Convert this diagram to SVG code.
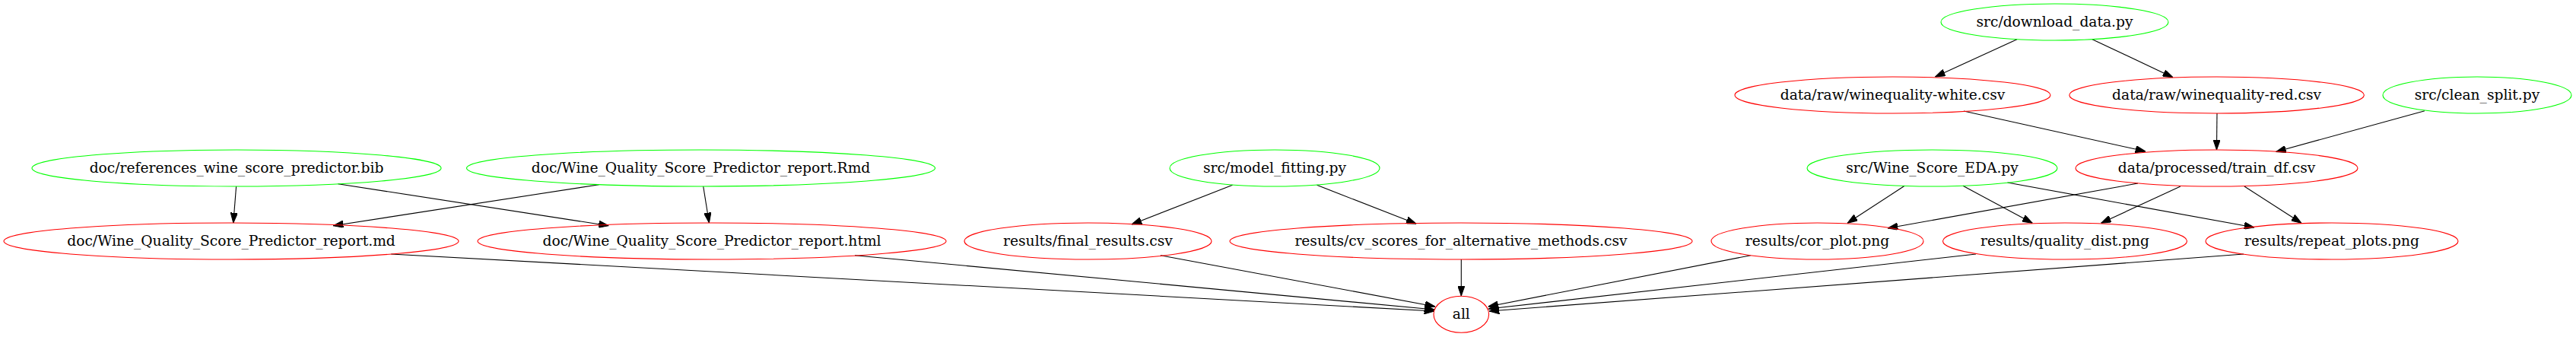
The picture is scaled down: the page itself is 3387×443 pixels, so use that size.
<svg xmlns="http://www.w3.org/2000/svg" width="3387" height="443" viewBox="0 0 3387 443">
<style>
.n ellipse{fill:none;stroke-width:1.1}
.g ellipse{stroke:#00ff00}
.r ellipse{stroke:#ff0000}
.n text{font-family:"DejaVu Serif","Liberation Serif",serif;font-size:18.67px;text-anchor:middle;fill:#000}
#edges path{fill:none;stroke:#000;stroke-width:1.1;marker-end:url(#ah)}
</style>
<defs>
<marker id="ah" viewBox="0 0 13.33 9.33" refX="13.33" refY="4.67" markerWidth="13.33" markerHeight="9.33" markerUnits="userSpaceOnUse" orient="auto">
<path d="M0,0 L13.33,4.67 L0,9.33 Z" fill="#000" stroke="#000" stroke-width="1"/>
</marker>
</defs>
<rect width="3387" height="443" fill="#fff"/>
<g id="edges">
<path d="M2652,51.7 L2544.4,101"/>
<path d="M2751,51.7 L2857,101.7"/>
<path d="M2582,146 L2821,199"/>
<path d="M2915,149 L2914.5,197"/>
<path d="M3188,145.7 L2992.5,199.5"/>
<path d="M310.6,245 L306.8,293"/>
<path d="M444.5,241.7 L800.4,296.7"/>
<path d="M787.6,242.7 L438,296.7"/>
<path d="M924.7,245 L932.4,293"/>
<path d="M1620.5,243.3 L1487.9,295"/>
<path d="M1731.5,243.3 L1862.2,294.3"/>
<path d="M2504.2,244.3 L2429,293.3"/>
<path d="M2581,244.3 L2672.3,293.3"/>
<path d="M2639.5,240 L2964,299"/>
<path d="M2811,241 L2482,300"/>
<path d="M2866.9,245 L2762.5,293.3"/>
<path d="M2951,245 L3026,293.3"/>
<path d="M514.3,334 L1886,409"/>
<path d="M1124,335.7 L1886,407"/>
<path d="M1526,335.7 L1887,403"/>
<path d="M1921.3,341 L1921.3,389"/>
<path d="M2301.7,335.7 L1956.7,403"/>
<path d="M2598,334 L1957,406"/>
<path d="M2950,334 L1958,409"/>
</g>
<g id="download_data" class="n g"><ellipse cx="2701.5" cy="29" rx="149.5" ry="24"/><text x="2701.5" y="34.5">src/download_data.py</text></g>
<g id="winequality_white" class="n r"><ellipse cx="2488.5" cy="125" rx="207.5" ry="24"/><text x="2488.5" y="130.5">data/raw/winequality-white.csv</text></g>
<g id="winequality_red" class="n r"><ellipse cx="2914.6" cy="125" rx="193.8" ry="24"/><text x="2914.6" y="130.5">data/raw/winequality-red.csv</text></g>
<g id="clean_split" class="n g"><ellipse cx="3257" cy="125" rx="124" ry="24"/><text x="3257" y="130.5">src/clean_split.py</text></g>
<g id="bib" class="n g"><ellipse cx="311" cy="221" rx="269" ry="24"/><text x="311" y="226.5">doc/references_wine_score_predictor.bib</text></g>
<g id="rmd" class="n g"><ellipse cx="921.5" cy="221" rx="308" ry="24"/><text x="921.5" y="226.5">doc/Wine_Quality_Score_Predictor_report.Rmd</text></g>
<g id="model_fitting" class="n g"><ellipse cx="1676" cy="221" rx="138" ry="24"/><text x="1676" y="226.5">src/model_fitting.py</text></g>
<g id="eda" class="n g"><ellipse cx="2540.5" cy="221" rx="164.5" ry="24"/><text x="2540.5" y="226.5">src/Wine_Score_EDA.py</text></g>
<g id="train_df" class="n r"><ellipse cx="2914.5" cy="221" rx="185.5" ry="24"/><text x="2914.5" y="226.5">data/processed/train_df.csv</text></g>
<g id="md" class="n r"><ellipse cx="304" cy="317" rx="299" ry="24"/><text x="304" y="322.5">doc/Wine_Quality_Score_Predictor_report.md</text></g>
<g id="html" class="n r"><ellipse cx="936" cy="317" rx="308" ry="24"/><text x="936" y="322.5">doc/Wine_Quality_Score_Predictor_report.html</text></g>
<g id="final_results" class="n r"><ellipse cx="1430.5" cy="317" rx="162.5" ry="24"/><text x="1430.5" y="322.5">results/final_results.csv</text></g>
<g id="cv_scores" class="n r"><ellipse cx="1921" cy="317" rx="304" ry="24"/><text x="1921" y="322.5">results/cv_scores_for_alternative_methods.csv</text></g>
<g id="cor_plot" class="n r"><ellipse cx="2389.5" cy="317" rx="139.5" ry="24"/><text x="2389.5" y="322.5">results/cor_plot.png</text></g>
<g id="quality_dist" class="n r"><ellipse cx="2715" cy="317" rx="160.5" ry="24"/><text x="2715" y="322.5">results/quality_dist.png</text></g>
<g id="repeat_plots" class="n r"><ellipse cx="3066" cy="317" rx="166" ry="24"/><text x="3066" y="322.5">results/repeat_plots.png</text></g>
<g id="all" class="n r"><ellipse cx="1921.3" cy="413.3" rx="36.3" ry="24"/><text x="1921.3" y="418.5">all</text></g>
</svg>
